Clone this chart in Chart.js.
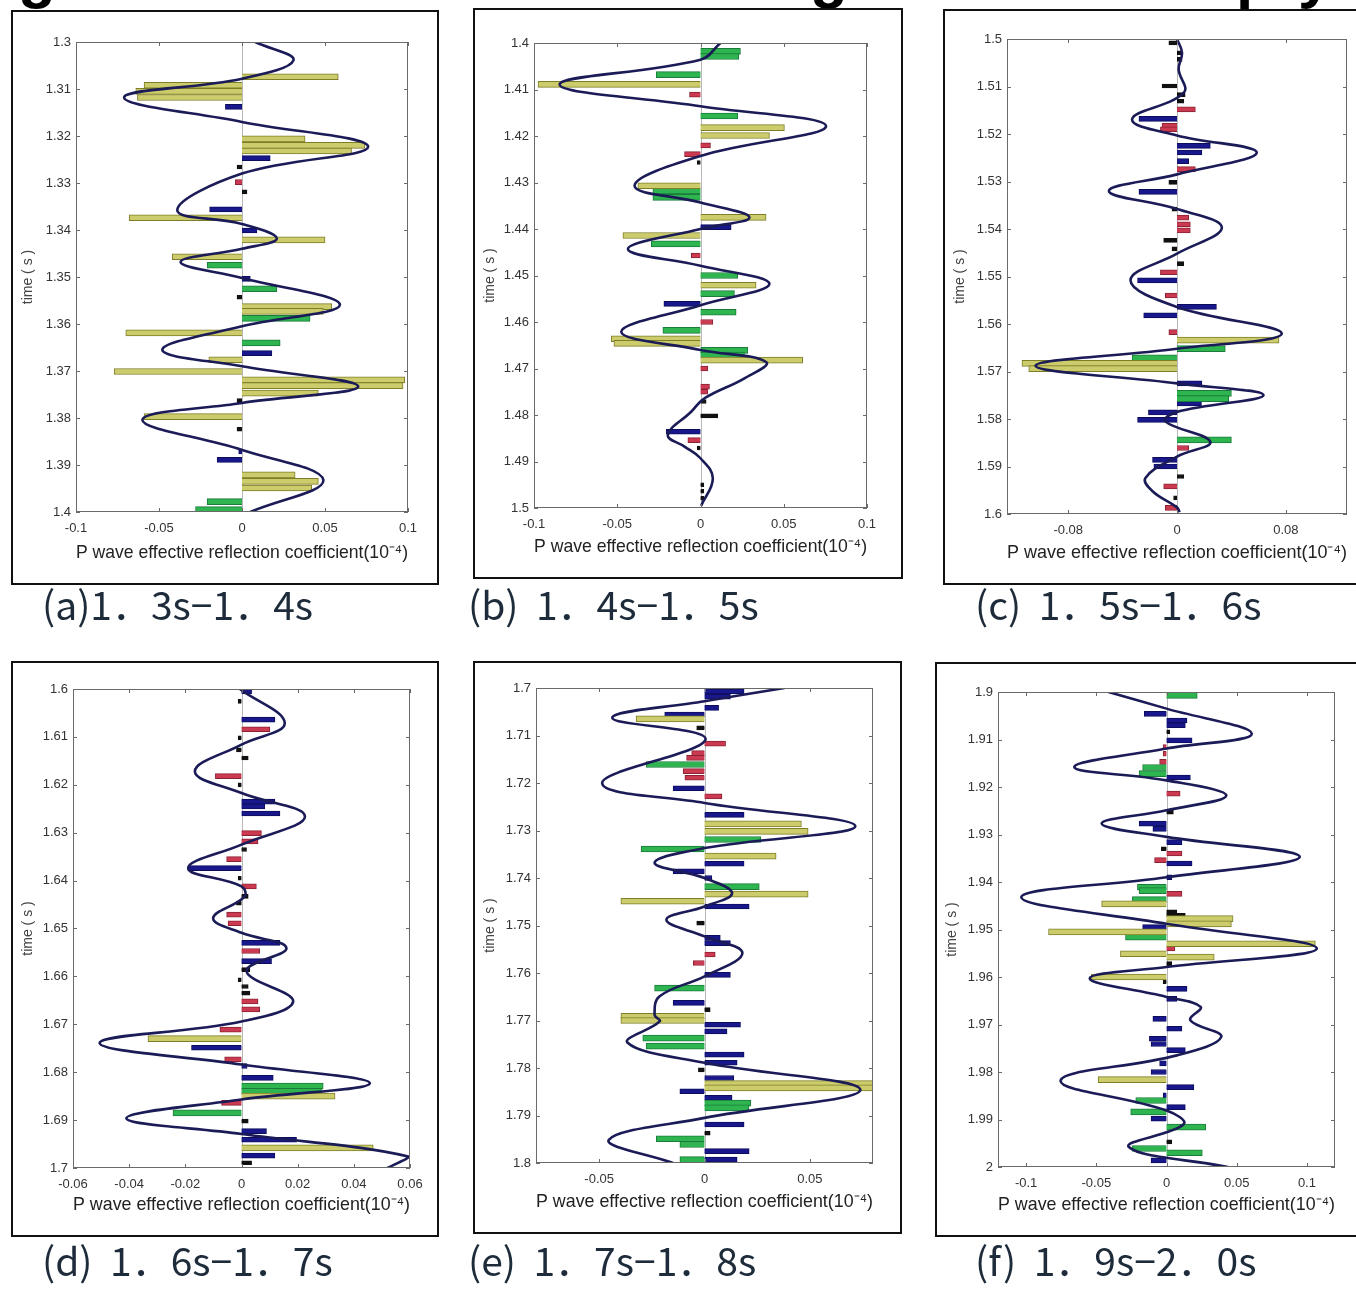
<!DOCTYPE html>
<html>
<head>
<meta charset="utf-8">
<script src="https://cdn.jsdelivr.net/npm/chart.js@4.4.0/dist/chart.umd.min.js"></script>
<style>
  html, body { margin: 0; padding: 0; background: #fff; }
  body { width: 1356px; height: 1289px; overflow: hidden; position: relative; }
  .box { position: absolute; border: 2px solid #111; background: #fff; box-sizing: border-box; }
  canvas { position: absolute; }
  .cap { position: absolute; font-family: 'Noto Sans CJK SC', 'Noto Sans', sans-serif; font-size: 39px; line-height: 1; color: #1d2b3a; white-space: pre; }
  .top { position: absolute; font-family: 'Liberation Sans', Arial, sans-serif; font-weight: bold; font-size: 62px; line-height: 1; color: #000; }
</style>
</head>
<body>
<div class="top" style="left:18px;top:-56px">g</div>
<div class="top" style="left:810px;top:-56px">g</div>
<div class="top" style="left:1236px;top:-56px">p</div>
<div class="top" style="left:1298px;top:-56px">y</div>
<script>
// every pair is [time (s), reflection coefficient]

// (a) 1.3s - 1.4s
const aWave = [[1.3,0.008],[1.3039,0.031],[1.3078,0],[1.3118,-0.071],[1.317,0],[1.3223,0.076],[1.328,0],[1.3358,-0.039],[1.3387,0],[1.3418,0.021],[1.344,0],[1.3468,-0.037],[1.3502,0],[1.3559,0.059],[1.3605,0],[1.3655,-0.048],[1.369,0],[1.3733,0.070],[1.3768,0],[1.3804,-0.060],[1.3868,0],[1.3932,0.049],[1.4,0.005]];
const aOlive = [[1.3074,0.058],[1.3092,-0.059],[1.3105,-0.064],[1.3118,-0.063],[1.3206,0.038],[1.322,0.074],[1.3232,0.066],[1.3374,-0.068],[1.3421,0.050],[1.3457,-0.042],[1.3563,0.054],[1.3573,0.049],[1.3619,-0.070],[1.3676,-0.020],[1.3701,-0.077],[1.3719,0.098],[1.3731,0.097],[1.3747,0.046],[1.3797,-0.059],[1.3921,0.032],[1.3935,0.046],[1.3949,0.042]];
const aGreen = [[1.3475,-0.021],[1.3525,0.021],[1.3588,0.041],[1.364,0.023],[1.3978,-0.021],[1.3995,-0.028]];
const aBlue = [[1.3138,-0.010],[1.3247,0.017],[1.3356,-0.0195],[1.3401,0.009],[1.3504,0.005],[1.3662,0.018],[1.3871,-0.002],[1.3889,-0.015]];
const aRed = [[1.3298,-0.004]];
const aBlack = [[1.3266,-0.003],[1.3319,0.003],[1.3543,-0.003],[1.3763,-0.003],[1.3824,-0.003]];

// (b) 1.4s - 1.5s
const bWave = [[1.4,0.012],[1.4036,0],[1.4089,-0.0846],[1.4136,0],[1.4179,0.0754],[1.4243,0],[1.4307,-0.0396],[1.4343,0],[1.4375,0.0294],[1.44,0],[1.4443,-0.0436],[1.4479,0],[1.4518,0.0414],[1.4564,0],[1.4621,-0.0476],[1.466,0],[1.4686,0.0394],[1.4721,0.0264],[1.4764,0.0024],[1.4793,-0.0056],[1.4843,-0.0196],[1.4868,-0.0096],[1.4893,0],[1.4936,0.0074],[1.4995,0.0004]];
const bOlive = [[1.4089,-0.0976],[1.4182,0.0504],[1.4199,0.0414],[1.4307,-0.0376],[1.4375,0.0394],[1.4414,-0.0466],[1.4521,0.0334],[1.4636,-0.0536],[1.4646,-0.052],[1.4682,0.0614]];
const bGreen = [[1.4018,0.024],[1.4029,0.023],[1.4068,-0.0266],[1.4157,0.0224],[1.4318,-0.0286],[1.4332,-0.0286],[1.4432,-0.0296],[1.45,0.0224],[1.4539,0.0204],[1.4579,0.0214],[1.4618,-0.0226],[1.4661,0.0284],[1.4671,0.0264]];
const bBlue = [[1.4396,0.0184],[1.4561,-0.022],[1.4836,-0.0206]];
const bRed = [[1.4111,-0.0066],[1.422,0.006],[1.4239,-0.0096],[1.4457,-0.0056],[1.46,0.0074],[1.47,0.0044],[1.4739,0.0054],[1.475,0.0044],[1.4854,-0.0076]];
const bBlack = [[1.4257,-0.002],[1.4771,0.0034],[1.4802,0.0104],[1.4871,-0.002],[1.495,0.002],[1.4964,0.002],[1.4979,0.002]];

// (c) 1.5s - 1.6s
const cWave = [[1.5,0],[1.5029,0.0037],[1.5064,0.0012],[1.5113,0.005],[1.5169,-0.033],[1.5203,0],[1.5239,0.0587],[1.5285,0],[1.532,-0.0501],[1.5358,0],[1.5397,0.033],[1.5452,0],[1.5508,-0.0342],[1.5564,0],[1.562,0.077],[1.5652,0],[1.5688,-0.104],[1.5725,0],[1.575,0.0636],[1.5785,0],[1.5805,-0.0086],[1.5848,0.0245],[1.5879,0],[1.5924,-0.0232],[1.5952,-0.018],[1.5986,0],[1.5996,0.002]];
const cOlive = [[1.5634,0.075],[1.5683,-0.114],[1.5694,-0.109]];
const cGreen = [[1.5652,0.0355],[1.5671,-0.033],[1.5746,0.04],[1.5757,0.038],[1.5844,0.04]];
const cBlue = [[1.5168,-0.028],[1.5225,0.0245],[1.5239,0.0183],[1.5257,0.0086],[1.5322,-0.028],[1.5508,-0.029],[1.5564,0.029],[1.5582,-0.0245],[1.5725,0.0183],[1.5767,0.018],[1.5786,-0.021],[1.5802,-0.029],[1.5886,-0.018],[1.59,-0.017]];
const cRed = [[1.5148,0.0135],[1.5183,-0.011],[1.519,-0.0122],[1.5274,0.0135],[1.5376,0.0086],[1.539,0.0098],[1.5403,0.0098],[1.5491,-0.0122],[1.554,-0.0086],[1.5617,-0.006],[1.5861,0.0086],[1.5942,-0.0098],[1.5987,-0.0086]];
const cBlack = [[1.5008,-0.006],[1.5029,0.0037],[1.5043,0.0037],[1.5099,-0.011],[1.5117,0.006],[1.5131,0.005],[1.5302,-0.006],[1.5358,-0.0037],[1.5424,-0.0098],[1.5442,-0.0037],[1.5473,0.005],[1.5921,0.005],[1.5966,-0.0025]];

// (d) 1.6s - 1.7s
const dWave = [[1.6,-0.0006],[1.6071,0.0154],[1.6116,0],[1.6172,-0.0166],[1.6217,0],[1.6266,0.0226],[1.6325,0],[1.6374,-0.019],[1.6412,0],[1.6434,0.001],[1.6478,-0.0101],[1.6509,0],[1.6541,0.016],[1.6589,0.0018],[1.6652,0.0184],[1.6694,0],[1.6739,-0.0505],[1.6784,0],[1.6823,0.0457],[1.6857,0],[1.6896,-0.041],[1.6929,0],[1.6976,0.0594],[1.7,0.052]];
const dOlive = [[1.673,-0.0333],[1.685,0.0333],[1.6958,0.0469]];
const dGreen = [[1.6829,0.0291],[1.684,0.0285],[1.6885,-0.0244]];
const dBlue = [[1.6005,0.0036],[1.6064,0.0119],[1.6235,0.0119],[1.6245,0.0083],[1.626,0.0137],[1.6374,-0.019],[1.653,0.0137],[1.6568,0.0107],[1.6749,-0.0178],[1.6787,0.002],[1.6812,0.0113],[1.6923,0.0089],[1.6941,0.0196],[1.6974,0.0119]];
const dRed = [[1.6084,0.0101],[1.6182,-0.0093],[1.6301,0.0071],[1.6318,0.0059],[1.6355,-0.0053],[1.6412,0.0053],[1.6471,-0.0053],[1.6489,-0.0048],[1.6547,0.0065],[1.6652,0.0059],[1.6669,0.0065],[1.6711,-0.0077],[1.6773,-0.006],[1.6864,-0.0071]];
const dBlack = [[1.6026,-0.0012],[1.6102,-0.0012],[1.6127,-0.0018],[1.6144,0.0024],[1.62,-0.0012],[1.6335,0.0018],[1.6395,-0.0012],[1.6433,0.0024],[1.6447,-0.0018],[1.6586,0.003],[1.6607,-0.0012],[1.6621,0.0024],[1.6635,0.003],[1.6902,0.0024],[1.6989,0.0036]];

// (e) 1.7s - 1.8s
const eWave = [[1.7,0.038],[1.7028,0],[1.7063,-0.0438],[1.7108,0.0005],[1.72,-0.0486],[1.7242,0],[1.7291,0.0716],[1.7337,0],[1.7368,-0.0237],[1.74,0],[1.7432,0.0131],[1.746,0],[1.7488,-0.0181],[1.7523,0],[1.7558,0.018],[1.7607,0],[1.7649,-0.0213],[1.7688,-0.0237],[1.7702,-0.0213],[1.7747,-0.0365],[1.7789,0],[1.7846,0.074],[1.7905,0],[1.7951,-0.0454],[1.8,-0.0149]];
const eOlive = [[1.7065,-0.0325],[1.7286,0.046],[1.7302,0.0492],[1.7354,0.034],[1.7434,0.0492],[1.7449,-0.0397],[1.7691,-0.0397],[1.77,-0.0397],[1.7833,0.0813],[1.7842,0.08]];
const eGreen = [[1.7161,-0.0277],[1.7319,0.0268],[1.7339,-0.0301],[1.7418,0.026],[1.7632,-0.0237],[1.7737,-0.0293],[1.7754,-0.0277],[1.7874,0.022],[1.7884,0.0211],[1.7949,-0.0229],[1.7961,-0.0117],[1.7993,-0.0117]];
const eBlue = [[1.7007,0.0188],[1.7018,0.0123],[1.7042,0.0067],[1.7056,-0.0189],[1.7211,-0.0149],[1.7267,0.0188],[1.737,0.0188],[1.7386,-0.0149],[1.74,0.0035],[1.746,0.0212],[1.7526,0.0075],[1.7537,0.0123],[1.7604,0.0123],[1.7663,-0.0149],[1.7709,0.0171],[1.7723,0.0107],[1.7772,0.0188],[1.7789,0.0155],[1.7821,0.0139],[1.7849,-0.0117],[1.7863,0.0131],[1.7919,0.0188],[1.7975,0.0212],[1.7993,0.0155]];
const eRed = [[1.7117,0.01],[1.7137,-0.0061],[1.7147,-0.0085],[1.7175,-0.0101],[1.7189,-0.0093],[1.7228,0.0083],[1.7561,0.0051],[1.7579,-0.0053]];
const eBlack = [[1.7084,-0.0037],[1.7495,-0.0037],[1.7677,0.0027],[1.7804,-0.0029],[1.7937,0.0027]];

// (f) 1.9s - 2.0s
const fWave = [[1.9,-0.0414],[1.9035,0],[1.9088,0.0608],[1.9119,0],[1.9158,-0.0657],[1.9186,0],[1.9218,0.0426],[1.9249,0],[1.9277,-0.0462],[1.9305,0],[1.9347,0.0949],[1.939,0],[1.9432,-0.1034],[1.9488,0],[1.954,0.107],[1.9579,0],[1.9603,-0.0547],[1.9642,0],[1.9663,0.0243],[1.9691,0.017],[1.9726,0.039],[1.9765,0.0073],[1.9818,-0.0754],[1.9881,0],[1.991,0.0122],[1.9958,-0.0268],[2.0,0.0438]];
const fOlive = [[1.9446,-0.0462],[1.9477,0.0474],[1.9488,0.0462],[1.9505,-0.084],[1.953,0.106],[1.9551,-0.0328],[1.9558,0.034],[1.96,-0.0535],[1.9816,-0.0487]];
const fGreen = [[1.9007,0.0219],[1.9159,-0.017],[1.9172,-0.0195],[1.9411,-0.0207],[1.9418,-0.0195],[1.9437,-0.0243],[1.9516,-0.0292],[1.986,-0.0219],[1.9884,-0.0255],[1.9916,0.028],[1.9961,-0.0243],[1.997,0.0255]];
const fBlue = [[1.9046,-0.0158],[1.906,0.0146],[1.907,0.0134],[1.9102,0.0182],[1.918,0.017],[1.9277,-0.0195],[1.9288,-0.0097],[1.9316,0.011],[1.9361,0.0182],[1.939,0.0037],[1.9495,-0.017],[1.9625,0.0146],[1.9646,0.0073],[1.9688,-0.0097],[1.9709,0.011],[1.973,-0.0122],[1.9741,-0.011],[1.9754,0.0134],[1.9782,-0.0049],[1.98,-0.011],[1.9832,0.0195],[1.9849,-0.0024],[1.9874,0.0134],[1.9898,-0.011],[1.9986,-0.011]];
const fRed = [[1.9116,-0.0024],[1.913,-0.0024],[1.9147,-0.0049],[1.9214,0.0097],[1.934,0.011],[1.9354,-0.0085],[1.9425,0.011],[1.954,0.006]];
const fBlack = [[1.9084,0.0024],[1.9253,0.0049],[1.933,-0.0037],[1.9463,0.0073],[1.947,0.0134],[1.9572,0.0037],[1.961,-0.0024],[1.9947,0.0037]];

// axis ranges and tick labels
const timeRanges = [[1.3,1.4],[1.4,1.5],[1.5,1.6],[1.6,1.7],[1.7,1.8],[1.9,2.0]];
const coefRanges = [[-0.1,0.1],[-0.1,0.1],[-0.125,0.125],[-0.06,0.06],[-0.08,0.08],[-0.12,0.12]];
const coefTicksAB = [-0.1,-0.05,0,0.05,0.1];
const coefTicksC = [-0.08,0,0.08];
const coefTicksD = [-0.06,-0.04,-0.02,0,0.02,0.04,0.06];
const coefTicksE = [-0.05,0,0.05];
const coefTicksF = [-0.1,-0.05,0,0.05,0.1];
const captions = ['(a)1．3s−1．4s','(b)  1．4s−1．5s','(c)  1．5s−1．6s','(d)  1．6s−1．7s','(e)  1．7s−1．8s','(f)  1．9s−2．0s'];

// page layout: outer box and plot area [left, top, right, bottom], caption [left, baseline]
const boxRects = [[11,10,439,585],[473,8,903,579],[943,9,1362,585],[11,661,439,1237],[473,661,902,1234],[935,662,1362,1237]];
const plotRects = [[76,42,408,512],[534,43,867,508],[1007,39,1347,514],[73,689,410,1168],[536,688,873,1163],[998,692,1335,1167]];
const capPos = [[42,621],[468,621],[975,621],[42,1277],[468,1277],[975,1277]];

const WAVE = '#1b1b58';
const OLIVE = '#cccc6c', OLIVE_EDGE = '#7e7e28';
const GREEN = '#2fb54f', GREEN_EDGE = '#1a7b3b';
const BLUE = '#18188c', BLUE_EDGE = '#0c0c5c';
const RED = '#cc3a52', RED_EDGE = '#8a2234';
const BLACK = '#111111';

// plot frame with inward ticks, plus a faint zero line
const frame = {
    id: 'frame',
    beforeDatasetsDraw(chart) {
        const {ctx, chartArea: a, scales: {x}} = chart;
        const p = Math.round(x.getPixelForValue(0)) + 0.5;
        ctx.save();
        ctx.strokeStyle = '#b8b8b8';
        ctx.lineWidth = 1;
        ctx.beginPath();
        ctx.moveTo(p, a.top);
        ctx.lineTo(p, a.bottom);
        ctx.stroke();
        ctx.restore();
    },
    afterDatasetsDraw(chart) {
        const {ctx, chartArea: a, scales: {x, y}} = chart;
        ctx.save();
        ctx.strokeStyle = '#6a6a6a';
        ctx.lineWidth = 1;
        ctx.strokeRect(a.left + 0.5, a.top + 0.5, a.right - a.left - 1, a.bottom - a.top - 1);
        ctx.beginPath();
        x.ticks.forEach(t => {
            const p = Math.round(x.getPixelForValue(t.value)) + 0.5;
            ctx.moveTo(p, a.top); ctx.lineTo(p, a.top + 4);
            ctx.moveTo(p, a.bottom); ctx.lineTo(p, a.bottom - 4);
        });
        y.ticks.forEach(t => {
            const p = Math.round(y.getPixelForValue(t.value)) + 0.5;
            ctx.moveTo(a.left, p); ctx.lineTo(a.left + 4, p);
            ctx.moveTo(a.right, p); ctx.lineTo(a.right - 4, p);
        });
        ctx.stroke();
        ctx.restore();
    }
};

function bars(list, fill, edge, thick) {
    return {
        type: 'bar',
        data: list.map(p => ({x: p[1], y: p[0]})),
        backgroundColor: fill,
        borderColor: edge,
        borderWidth: 1,
        barThickness: thick,
        grouped: false,
        order: 1
    };
}

function makePanel(i, wave, olive, green, blue, red, black, coefTicks) {
    const b = boxRects[i], pr = plotRects[i];
    const box = document.createElement('div');
    box.className = 'box';
    box.style.left = b[0] + 'px';
    box.style.top = b[1] + 'px';
    box.style.width = (b[2] - b[0]) + 'px';
    box.style.height = (b[3] - b[1]) + 'px';
    document.body.appendChild(box);

    const cx = b[0] + 2, cy = b[1] + 2, cw = b[2] - b[0] - 4, ch = b[3] - b[1] - 4;
    const canvas = document.createElement('canvas');
    canvas.width = cw; canvas.height = ch;
    canvas.style.left = cx + 'px'; canvas.style.top = cy + 'px';
    canvas.style.width = cw + 'px'; canvas.style.height = ch + 'px';
    document.body.appendChild(canvas);

    const yW = pr[0] - cx, xH = cy + ch - pr[3];
    const padT = pr[1] - cy, padR = cx + cw - pr[2];
    const tickFont = {family: "'Liberation Sans', Arial, sans-serif", size: 13};

    new Chart(canvas, {
        type: 'bar',
        data: {
            datasets: [
                {
                    type: 'line',
                    data: wave.map(p => ({x: p[1], y: p[0]})),
                    borderColor: WAVE,
                    borderWidth: 2.6,
                    pointRadius: 0,
                    tension: 0.4,
                    fill: false,
                    order: 0
                },
                bars(olive, OLIVE, OLIVE_EDGE, 6),
                bars(green, GREEN, GREEN_EDGE, 6),
                bars(blue, BLUE, BLUE_EDGE, 5),
                bars(red, RED, RED_EDGE, 5),
                bars(black, BLACK, BLACK, 4)
            ]
        },
        options: {
            indexAxis: 'y',
            responsive: false,
            animation: false,
            layout: {padding: {left: 0, top: padT, right: padR, bottom: 0}},
            plugins: {legend: {display: false}, tooltip: {enabled: false}},
            scales: {
                x: {
                    type: 'linear',
                    min: coefRanges[i][0],
                    max: coefRanges[i][1],
                    afterBuildTicks: s => { s.ticks = coefTicks.map(v => ({value: v})); },
                    afterFit: s => { s.height = xH; },
                    grid: {display: false, drawTicks: false},
                    border: {display: false},
                    ticks: {
                        autoSkip: false, maxRotation: 0, padding: 9, color: '#333', font: tickFont,
                        callback: v => v === 0 ? '0' : String(+v.toFixed(3))
                    },
                    title: {
                        display: true,
                        text: 'P wave effective reflection coefficient(10⁻⁴)',
                        color: '#222',
                        font: {family: "'Liberation Sans', Arial, sans-serif", size: 18.5},
                        padding: {top: 0, bottom: 19}
                    }
                },
                y: {
                    type: 'linear',
                    reverse: true,
                    offset: false,
                    min: timeRanges[i][0],
                    max: timeRanges[i][1],
                    afterFit: s => { s.width = yW; },
                    grid: {display: false, drawTicks: false},
                    border: {display: false},
                    ticks: {
                        stepSize: 0.01, padding: 5, color: '#333', font: tickFont,
                        callback: v => String(+v.toFixed(2))
                    },
                    title: {
                        display: true,
                        text: 'time ( s )',
                        color: '#444',
                        font: {family: "'Liberation Sans', Arial, sans-serif", size: 14},
                        padding: {top: 7, bottom: 0}
                    }
                }
            }
        },
        plugins: [frame]
    });

    const cap = document.createElement('div');
    cap.className = 'cap';
    cap.textContent = captions[i];
    cap.style.left = capPos[i][0] + 'px';
    cap.style.top = (capPos[i][1] - 37) + 'px';
    document.body.appendChild(cap);
}

makePanel(0, aWave, aOlive, aGreen, aBlue, aRed, aBlack, coefTicksAB);
makePanel(1, bWave, bOlive, bGreen, bBlue, bRed, bBlack, coefTicksAB);
makePanel(2, cWave, cOlive, cGreen, cBlue, cRed, cBlack, coefTicksC);
makePanel(3, dWave, dOlive, dGreen, dBlue, dRed, dBlack, coefTicksD);
makePanel(4, eWave, eOlive, eGreen, eBlue, eRed, eBlack, coefTicksE);
makePanel(5, fWave, fOlive, fGreen, fBlue, fRed, fBlack, coefTicksF);
</script>
</body>
</html>
